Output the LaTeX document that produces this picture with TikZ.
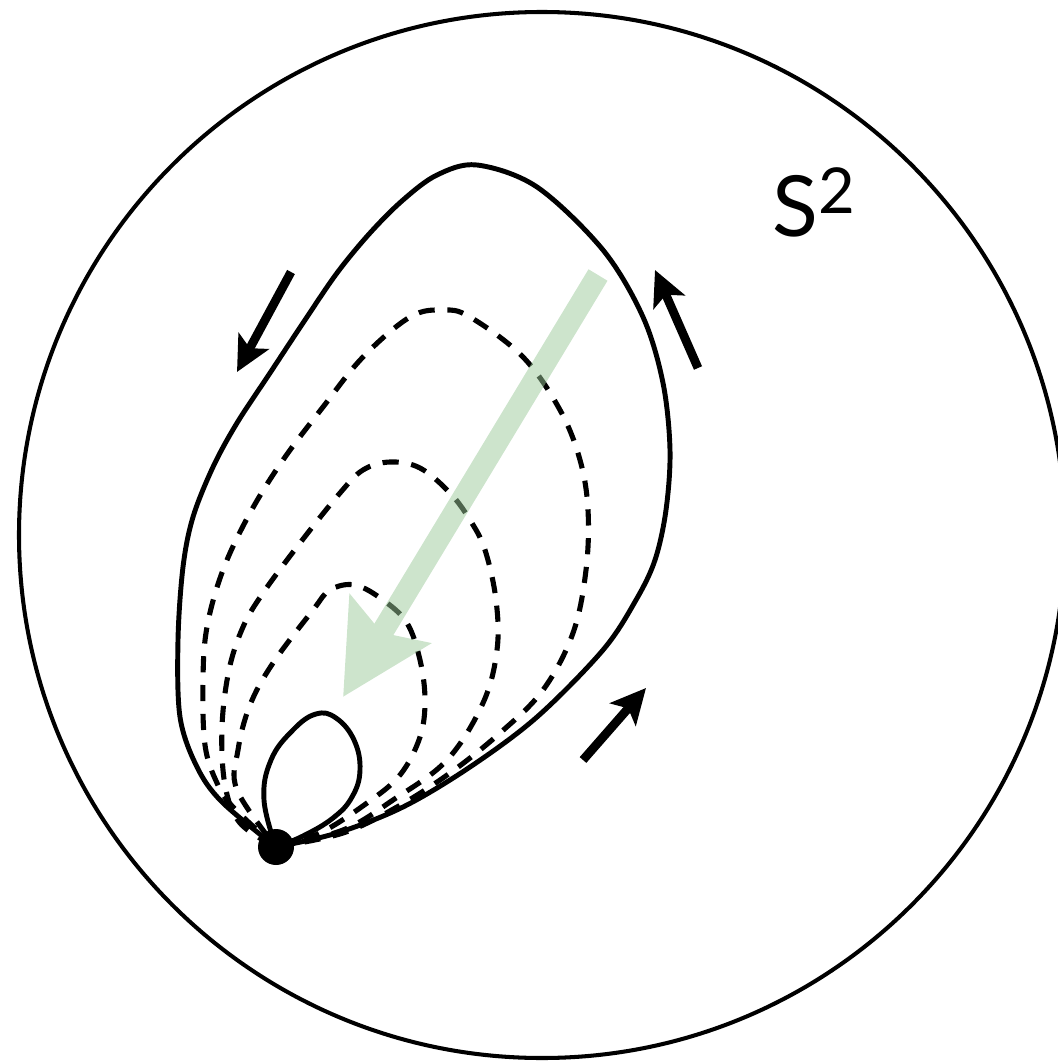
\documentclass[tikz,border=0pt]{standalone}
\usepackage{fontspec}
\setmainfont{Lato}
\usetikzlibrary{arrows.meta}
\definecolor{shrinkgreen}{RGB}{155,201,153}

\begin{document}
\begin{tikzpicture}[
  x=0.01cm, y=-0.01cm,
  >={Stealth[length=3.5mm,width=3.4mm,inset=0.8mm]},
  sphere/.style={line width=1.15pt},
  loopline/.style={line width=1.4pt,line join=round},
  homotopy/.style={line width=1.45pt,dash pattern=on 4.6pt off 3.6pt},
  flow/.style={->,line width=2.5pt},
  shrink/.style={-{Stealth[length=9mm,width=9.2mm,inset=1.5mm]},
    line width=6.3pt,shrinkgreen}
]
  \useasboundingbox (0,0) rectangle (1058,1061);
  \clip (0,0) rectangle (1058,1061);

  \draw[sphere] (542,535) circle[radius=523];
  \node[anchor=base west,inner sep=0pt] (label) at (772,237)
    {\fontsize{24}{28}\selectfont S\raisebox{0.28em}{\fontsize{18}{20}\selectfont 2}};

  \coordinate (base) at (276,847);

  % the loop and its shrinking family
  \draw[loopline] plot[smooth,tension=0.55] coordinates {
    (base) (337,833) (403,807) (470,767) (537,717) (603,650) (636,600)
    (655,560) (666,510) (670,450) (663,383) (643,317) (603,250) (537,187)
    (477,165) (437,175) (403,200) (370,233) (337,273) (303,323) (270,373)
    (237,423) (213,467) (193,517) (183,567) (178,640) (180,717) (197,767)
    (222,802) (base)};
  \draw[homotopy] plot[smooth,tension=0.6] coordinates {
    (base) (343,833) (397,807) (450,773) (500,733) (543,690) (573,633)
    (586,570) (588,510) (580,460) (560,410) (523,357) (470,317) (443,310)
    (410,317) (363,357) (323,407) (283,460) (250,513) (223,570) (207,627)
    (203,680) (205,745) (217,783) (233,807) (base)};
  \draw[homotopy] plot[smooth,tension=0.6] coordinates {
    (base) (343,830) (393,800) (447,760) (483,703) (497,650) (496,600)
    (485,550) (470,520) (450,493) (420,468) (390,462) (363,470) (340,493)
    (300,543) (263,593) (243,627) (229,670) (222,727) (225,785) (240,823)
    (base)};
  \draw[homotopy] plot[smooth,tension=0.6] coordinates {
    (base) (320,833) (367,803) (400,775) (420,737) (425,700) (420,660)
    (407,623) (383,600) (355,585) (330,590) (313,610) (273,663) (250,705)
    (238,750) (237,790) (base)};
  \draw[loopline] plot[smooth,tension=0.7] coordinates {
    (base) (303,836) (333,818) (352,797) (360,770) (354,740) (336,718)
    (316,714) (293,730) (271,760) (264,800) (base)};
  \fill (base) circle[radius=18];

  % direction of the loop
  \draw[flow] (291,272) -- (237,372);
  \draw[flow] (698,368) -- (655,270);
  \draw[flow] (583,760) -- (646,688);

  % contraction
  \begin{scope}[transparency group,opacity=0.5]
    \draw[shrink] (598,275) -- (343,697);
  \end{scope}
\end{tikzpicture}
\end{document}
